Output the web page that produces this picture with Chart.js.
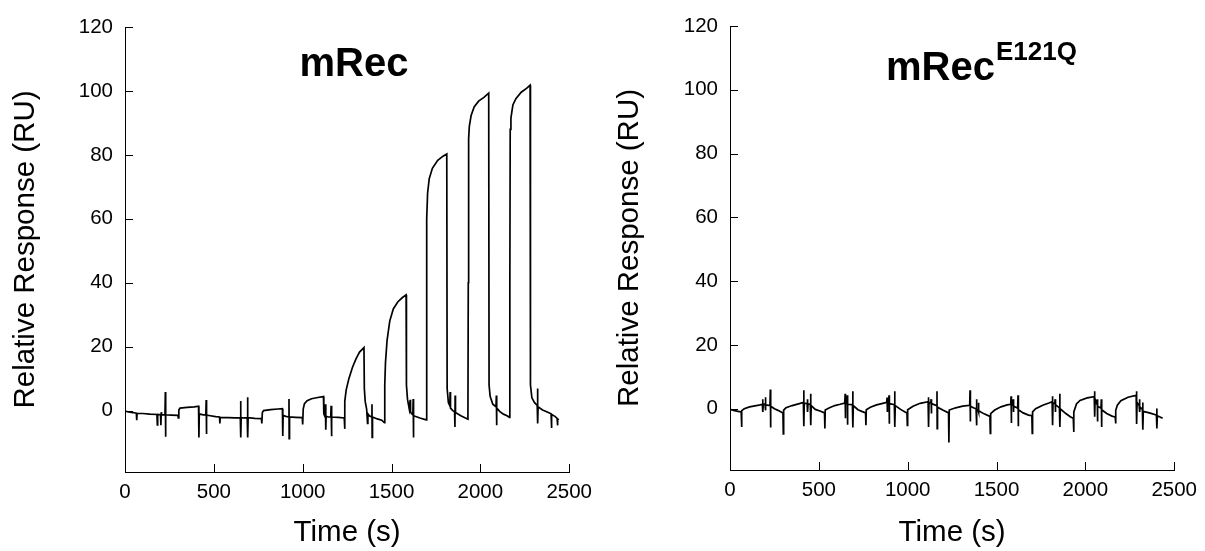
<!DOCTYPE html>
<html><head><meta charset="utf-8">
<script src="https://cdn.jsdelivr.net/npm/chart.js@4.4.0/dist/chart.umd.min.js"></script>
<style>
html,body{margin:0;padding:0;background:#fff;width:1205px;height:551px;overflow:hidden}
#a{position:absolute;left:0;top:0}
#b{position:absolute;left:600px;top:0}
</style></head>
<body>
<canvas id="a" width="600" height="551"></canvas>
<canvas id="b" width="605" height="551"></canvas>
<script>
const xTicks = [0, 500, 1000, 1500, 2000, 2500];
const yTicks = [0, 20, 40, 60, 80, 100, 120];
const xTitle = 'Time (s)';
const yTitle = 'Relative Response (RU)';
const titleLeft = 'mRec';
const titleRight = 'mRec';
const titleRightSup = 'E121Q';

const mRecTime = [0,20,45,64,66,68,100,140,180,182,184,200,202,204,206,225,227,228,230,260,298,300,303,310,350,390,414,416,418,440,455,457,458,460,480,510,532,534,536,580,620,649,651,652,654,670,688,690,691,693,730,768,770,773,780,820,860,886,888,890,905,921,923,924,926,960,998,1000,1003,1010,1025,1050,1085,1117,1119,1125,1128,1130,1132,1145,1158,1160,1162,1164,1200,1234,1236,1238,1245,1260,1280,1300,1320,1345,1347,1352,1360,1365,1367,1375,1388,1390,1391,1393,1420,1445,1460,1462,1466,1475,1490,1510,1535,1560,1582,1584,1590,1600,1605,1607,1615,1620,1622,1623,1625,1660,1695,1697,1699,1703,1712,1730,1760,1790,1811,1813,1820,1828,1830,1832,1845,1855,1857,1858,1860,1890,1930,1932,1934,1938,1948,1965,1990,2020,2047,2049,2055,2070,2088,2090,2091,2093,2110,2130,2150,2164,2166,2168,2172,2183,2200,2230,2260,2280,2282,2290,2305,2320,2322,2323,2325,2350,2370,2398,2400,2402,2420,2432,2434,2436,2440];
const mRecResp = [-0.2,-0.4,-0.6,-0.8,-3.0,-0.9,-0.9,-1.1,-1.2,-4.5,-1.2,-1.3,-4.6,-0.5,-1.3,-1.3,5.8,-8.2,-1.3,-1.4,-1.5,-2.3,0.2,0.8,1.0,1.2,1.4,-8.4,-1.0,-1.3,-1.3,3.3,-7.3,-1.4,-1.6,-1.9,-2.0,-4.0,-2.1,-2.2,-2.3,-2.3,3.0,-8.4,-2.2,-2.3,-2.3,4.2,-8.4,-2.2,-2.4,-2.5,-4.0,-0.6,0.0,0.3,0.5,0.6,-7.9,-1.5,-1.8,-2.0,3.6,-8.8,-2.0,-2.1,-2.2,-4.3,0.5,2.2,3.1,3.7,4.1,4.4,-1.0,-1.8,2.0,-6.0,-1.8,-2.0,-2.0,1.5,-8.0,-2.0,-2.1,-2.3,-5.7,3.0,6.5,10.0,13.5,16.2,18.3,19.7,6.9,2.8,0.5,-4.0,-1.0,-1.6,-2.0,2.0,-8.4,-2.0,-2.6,-3.0,-3.8,8.0,15.0,22.0,28.0,31.8,34.0,35.3,36.2,8.0,3.5,0.5,3.4,-0.5,-1.0,-1.3,3.6,-8.4,-1.6,-2.3,-2.9,30.0,60.0,68.0,72.5,75.8,78.3,79.6,80.3,6.9,2.5,1.5,5.8,0.8,0.0,-0.4,-5.1,4.7,-0.6,-1.6,-2.7,40.0,85.0,89.0,92.3,95.0,96.8,98.0,99.3,8.0,4.5,2.0,1.2,4.7,-4.6,0.8,-0.3,-1.1,-1.6,-2.1,40.0,88.0,91.5,95.6,97.6,99.6,100.8,101.8,8.0,4.0,2.5,1.6,6.9,-4.0,1.2,0.2,-0.3,-1.0,-5.4,-1.2,-1.8,-2.4,-4.6,-2.5,-3.0];

const mutTime = [0,20,45,63,65,67,80,110,140,170,182,184,185,187,197,199,200,202,225,227,228,230,250,270,298,300,302,315,350,390,413,415,416,418,434,436,437,439,452,454,455,457,480,510,532,534,536,560,590,620,646,648,649,651,658,660,661,663,689,691,692,694,720,745,763,765,767,790,825,860,882,884,885,887,893,895,896,898,925,927,928,930,960,985,996,998,1000,1030,1070,1115,1117,1118,1120,1130,1132,1133,1135,1163,1165,1166,1168,1200,1230,1232,1234,1270,1310,1349,1351,1352,1354,1370,1385,1387,1388,1390,1396,1398,1399,1401,1430,1463,1465,1467,1490,1525,1560,1580,1582,1583,1585,1592,1594,1595,1597,1619,1621,1622,1624,1650,1680,1699,1701,1703,1720,1760,1795,1813,1815,1816,1818,1828,1830,1831,1833,1854,1856,1857,1859,1890,1915,1932,1934,1936,1950,1970,2010,2050,2052,2053,2055,2065,2067,2068,2070,2088,2090,2091,2093,2120,2150,2168,2170,2172,2180,2200,2240,2286,2288,2289,2291,2303,2305,2306,2308,2321,2323,2324,2326,2360,2390,2400,2402,2403,2405,2420,2435];
const mutResp = [-0.2,-0.5,-0.8,-1.0,-5.7,-0.6,0.0,0.6,0.9,1.2,1.4,3.0,-1.0,1.3,1.5,3.6,-0.5,1.2,1.0,6.0,-5.9,0.8,0.0,-0.5,-1.3,-7.9,-0.4,0.3,1.0,1.6,2.0,5.8,-5.5,1.8,1.6,3.0,-1.0,1.5,1.4,4.7,-5.2,1.0,-0.2,-0.8,-1.3,-6.2,-0.4,0.3,1.0,1.4,1.8,4.7,-3.0,1.6,1.6,4.2,-5.0,1.4,1.3,5.5,-5.9,1.0,-0.3,-0.9,-1.3,-5.2,-0.3,0.5,1.2,1.7,2.0,3.5,-1.0,1.8,1.8,4.2,-4.7,1.6,1.3,5.5,-5.7,1.0,-0.2,-1.0,-1.3,-5.2,-0.3,0.8,1.7,2.2,3.6,-5.7,2.0,1.8,3.0,-1.5,1.6,1.0,5.5,-6.2,0.5,-0.5,-1.3,-10.6,-0.4,0.3,0.8,1.1,5.8,-4.0,0.8,0.3,0.0,3.0,-5.2,-0.2,-0.3,1.9,-1.0,-0.6,-1.6,-2.4,-7.7,-1.5,-0.4,0.6,1.2,1.4,3.9,-4.5,1.2,1.1,3.0,-1.0,0.8,0.2,4.2,-5.5,-0.3,-1.3,-2.0,-2.2,-7.7,-1.0,0.0,1.1,1.8,2.2,3.9,-5.2,1.8,1.6,3.0,-1.0,1.3,0.3,4.7,-5.7,0.0,-1.5,-2.5,-3.0,-7.3,-1.0,1.5,2.6,3.4,3.8,5.5,-2.5,3.0,1.5,3.0,-4.0,0.8,0.2,3.0,-5.7,-0.3,-1.5,-2.3,-2.6,-4.6,-0.5,1.1,2.5,3.6,4.2,5.5,-4.8,2.0,1.0,3.0,-1.0,0.5,-0.2,2.0,-6.6,-0.8,-1.3,-1.8,-2.0,0.1,-6.2,-2.2,-2.6,-3.0];

const FONT = "'Liberation Sans', Arial, sans-serif";

const insideTicks = {
  id: 'insideTicks',
  afterDraw(chart) {
    const ctx = chart.ctx, xs = chart.scales.x, ys = chart.scales.y;
    const a = chart.chartArea, len = 8;
    ctx.save();
    ctx.strokeStyle = '#000';
    ctx.lineWidth = 1;
    ctx.beginPath();
    yTicks.forEach(v => {
      const p = Math.round(ys.getPixelForValue(v)) + 0.5;
      ctx.moveTo(a.left, p); ctx.lineTo(a.left + len, p);
    });
    xTicks.forEach(v => {
      const p = Math.round(xs.getPixelForValue(v)) + 0.5;
      ctx.moveTo(p, a.bottom); ctx.lineTo(p, a.bottom - len);
    });
    ctx.stroke();
    ctx.restore();
  }
};

function titlePlugin(main, sup, cx, base, supSize) {
  return {
    id: 'panelTitle',
    afterDraw(chart) {
      const ctx = chart.ctx;
      ctx.save();
      ctx.fillStyle = '#000';
      ctx.textBaseline = 'alphabetic';
      ctx.font = 'bold 40px ' + FONT;
      const w1 = ctx.measureText(main).width;
      let w2 = 0;
      if (sup) { ctx.font = 'bold ' + supSize + 'px ' + FONT; w2 = ctx.measureText(sup).width; }
      const start = cx - (w1 + w2) / 2;
      ctx.font = 'bold 40px ' + FONT;
      ctx.textAlign = 'left';
      ctx.fillText(main, start, base);
      if (sup) {
        ctx.font = 'bold ' + supSize + 'px ' + FONT;
        ctx.fillText(sup, start + w1 + 1, base - 20);
      }
      ctx.restore();
    }
  };
}

function makeChart(id, times, resp, geom, tplug) {
  return new Chart(document.getElementById(id), {
    type: 'scatter',
    data: { datasets: [{
      data: times.map((t, i) => ({ x: t, y: resp[i] })),
      showLine: true, borderColor: '#000', borderWidth: 1.7,
      pointRadius: 0, tension: 0, fill: false
    }]},
    options: {
      responsive: false, animation: false, events: [],
      layout: { padding: { left: 0, right: geom.right, top: geom.top, bottom: 0 } },
      plugins: { legend: { display: false }, tooltip: { enabled: false }, title: { display: false } },
      scales: {
        x: {
          type: 'linear', min: 0, max: 2500,
          afterBuildTicks: s => { s.ticks = xTicks.map(v => ({ value: v })); },
          afterFit: s => { s.height = geom.xh; },
          grid: { display: false, drawTicks: false },
          border: { display: true, color: '#000', width: 1 },
          ticks: { color: '#000', font: { family: FONT, size: 20.5 }, padding: 8, maxRotation: 0, autoSkip: false, callback: v => String(v) },
          title: { display: true, text: xTitle, color: '#000', font: { family: FONT, size: 29.5 }, padding: { top: 0, bottom: 0 } }
        },
        y: {
          type: 'linear', min: -19.2, max: 120,
          afterBuildTicks: s => { s.ticks = yTicks.map(v => ({ value: v })); },
          afterFit: s => { s.width = geom.yw; },
          grid: { display: false, drawTicks: false },
          border: { display: true, color: '#000', width: 1 },
          ticks: { color: '#000', font: { family: FONT, size: 20.5 }, padding: 12, autoSkip: false, callback: v => String(v) },
          title: { display: true, text: yTitle, color: '#000', font: { family: FONT, size: 29.5 }, padding: { top: geom.ytp, bottom: 0 } }
        }
      }
    },
    plugins: [insideTicks, tplug]
  });
}

makeChart('a', mRecTime, mRecResp, { right: 29, top: 27, xh: 79, yw: 125, ytp: 8 },
  titlePlugin(titleLeft, '', 354, 76, 26));
makeChart('b', mutTime, mutResp, { right: 28, top: 26, xh: 81, yw: 130, ytp: 12 },
  titlePlugin(titleRight, titleRightSup, 381, 80, 26));
</script>
</body></html>
